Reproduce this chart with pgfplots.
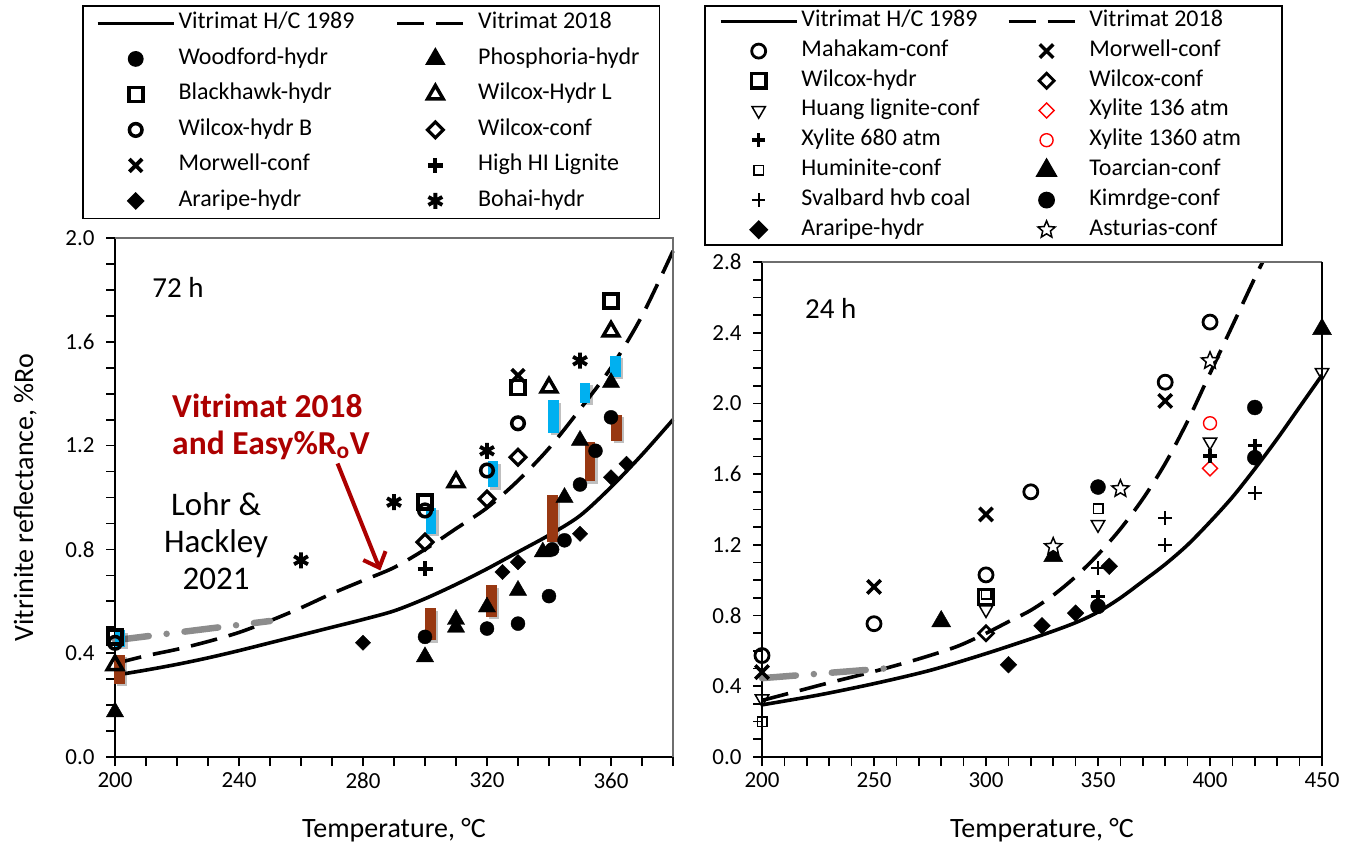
\documentclass[border=0pt]{standalone}
\usepackage{fontspec}
\setmainfont{Carlito}
\usepackage{pgfplots}
\pgfplotsset{compat=1.18}
\usetikzlibrary{arrows.meta}

\definecolor{barblue}{RGB}{0,176,240}
\definecolor{barbrown}{RGB}{152,56,18}
\definecolor{annred}{RGB}{172,0,0}
\definecolor{lhgray}{RGB}{140,140,140}
\definecolor{framegray}{RGB}{110,110,110}

% open five-pointed star
\pgfdeclareplotmark{ostar}{%
  \pgfpathmoveto{\pgfpointpolar{90}{\pgfplotmarksize}}%
  \pgfpathlineto{\pgfpointpolar{126}{0.45\pgfplotmarksize}}%
  \pgfpathlineto{\pgfpointpolar{162}{\pgfplotmarksize}}%
  \pgfpathlineto{\pgfpointpolar{198}{0.45\pgfplotmarksize}}%
  \pgfpathlineto{\pgfpointpolar{234}{\pgfplotmarksize}}%
  \pgfpathlineto{\pgfpointpolar{270}{0.45\pgfplotmarksize}}%
  \pgfpathlineto{\pgfpointpolar{306}{\pgfplotmarksize}}%
  \pgfpathlineto{\pgfpointpolar{342}{0.45\pgfplotmarksize}}%
  \pgfpathlineto{\pgfpointpolar{18}{\pgfplotmarksize}}%
  \pgfpathlineto{\pgfpointpolar{54}{0.45\pgfplotmarksize}}%
  \pgfpathclose
  \pgfusepathqfillstroke
}

\pgfplotsset{
  vrpanel/.style={
    scale only axis,
    clip=false,
    axis lines=left,
    axis line style={-, line width=2.5pt, black},
    tick align=outside,
    major tick length=9pt,
    minor tick length=9pt,
    every tick/.append style={black, line width=1.7pt},
    every minor tick/.append style={black, line width=1.7pt},
    /pgf/number format/assume math mode=true,
    tick label style={font=\fontsize{23}{27}\selectfont},
    label style={font=\fontsize{28}{33}\selectfont},
    yticklabel style={xshift=-8pt, /pgf/number format/.cd, fixed, fixed zerofill, precision=1},
    xticklabel style={yshift=-3pt},
    legend columns=2,
    legend cell align=left,
    legend image code/.code={\draw[mark repeat=2, mark phase=2, ##1] plot coordinates {(0pt,0pt) (38pt,0pt) (76pt,0pt)};},
    legend style={anchor=north west, draw=black, line width=1.8pt, fill=white,
      font=\fontsize{24}{28}\selectfont,
      nodes={inner sep=0pt, text height=16pt, text depth=5pt, align=left},
      inner xsep=13pt, inner ysep=7pt,
      /tikz/every odd column/.append style={column sep=3pt}},
  },
  hc/.style={black, line width=3.6pt, mark=none, smooth},
  v18/.style={black, line width=3.6pt, mark=none, smooth, dash pattern=on 27pt off 12pt},
  lhbar/.style={forget plot, mark=none, line width=10.5pt, unbounded coords=jump},
  lhshadow/.style={forget plot, mark=none, line width=10.5pt, unbounded coords=jump,
    black, opacity=0.25, xshift=2.5pt, yshift=-2.5pt},
  lhline/.style={forget plot, mark=none, lhgray, line width=6.5pt, line cap=round,
    dash pattern=on 34pt off 18pt on 0pt off 18pt},
}

\begin{document}
\begin{tikzpicture}
\useasboundingbox (0,0) rectangle (1348pt,847pt);

% ---------------- 72 h ----------------
\begin{axis}[vrpanel,
  at={(115pt,90pt)}, anchor=south west,
  width=558pt, height=519pt,
  xmin=200, xmax=380, ymin=0, ymax=2,
  xtick={200,240,280,320,360},
  minor xtick={210,220,...,380},
  ytick={0,0.4,0.8,1.2,1.6,2.0},
  minor ytick={0.1,0.2,0.3,0.5,0.6,0.7,0.9,1.0,1.1,1.3,1.4,1.5,1.7,1.8,1.9},
  xlabel={Temperature, °C},
  ylabel={Vitrinite reflectance, \%Ro},
  xlabel style={at={(axis description cs:0.5,-0.1407)}, anchor=center},
  ylabel style={at={(axis description cs:-0.161,0.5)}, anchor=center},
  legend style={at={(-0.0591,1.4489)}, row sep=14.5pt,
    /tikz/every even column/.append style={column sep=41pt}},
]
\addplot[hc] coordinates {
 (200,0.315) (210,0.335) (220,0.357) (230,0.382) (240,0.41) (250,0.44)
 (260,0.47) (270,0.50) (280,0.53) (290,0.563) (300,0.61) (310,0.665)
 (320,0.725) (330,0.79) (340,0.855) (350,0.93) (360,1.04) (370,1.165) (380,1.30)};
\addlegendentry{Vitrimat H/C 1989}
\addplot[v18] coordinates {
 (200,0.36) (210,0.39) (220,0.415) (230,0.445) (240,0.48) (250,0.525)
 (260,0.575) (270,0.63) (280,0.68) (290,0.73) (300,0.80) (310,0.88)
 (320,0.96) (330,1.065) (340,1.19) (350,1.34) (360,1.50) (370,1.70) (380,1.95)};
\addlegendentry{Vitrimat 2018}

\addplot[only marks, black, mark=*, mark size=7pt] coordinates {
 (300,0.463) (320,0.495) (330,0.514) (340,0.62) (341,0.80) (345,0.835)
 (350,1.05) (355,1.18) (360,1.309)};
\addlegendentry{Woodford-hydr}
\addplot[only marks, black, mark=triangle*, mark size=10pt] coordinates {
 (200,0.174) (300,0.386) (310,0.53) (310,0.50) (320,0.578) (330,0.642)
 (338,0.79) (345,1.0) (350,1.22) (360,1.443)};
\addlegendentry{Phosphoria-hydr\hspace*{7pt}}
\addplot[only marks, black, mark=square, mark size=7pt, line width=3.8pt] coordinates {
 (200,0.463) (300,0.982) (330,1.424) (360,1.758)};
\addlegendentry{Blackhawk-hydr}
\addplot[only marks, black, mark=triangle, mark size=9pt, line width=3.5pt] coordinates {
 (200,0.354) (310,1.059) (340,1.424) (360,1.64)};
\addlegendentry{Wilcox-Hydr L}
\addplot[only marks, black, mark=o, mark size=6.3pt, line width=3.5pt] coordinates {
 (200,0.44) (300,0.95) (320,1.104) (330,1.286)};
\addlegendentry{Wilcox-hydr B}
\addplot[only marks, black, mark=square, mark size=5.6pt, line width=3.2pt, mark options={rotate=45}] coordinates {
 (300,0.828) (320,0.994) (330,1.155)};
\addlegendentry{Wilcox-conf}
\addplot[only marks, black, mark=x, mark size=9pt, line width=3.8pt] coordinates {
 (330,1.47)};
\addlegendentry{Morwell-conf}
\addplot[only marks, black, mark=+, mark size=7.5pt, line width=4.2pt] coordinates {
 (300,0.726)};
\addlegendentry{High HI Lignite}
\addplot[only marks, black, mark=square*, mark size=5.4pt, mark options={rotate=45}] coordinates {
 (280,0.44) (325,0.713) (330,0.751) (350,0.86) (360,1.078) (365,1.13)};
\addlegendentry{Araripe-hydr}
\addplot[only marks, black, mark=asterisk, mark size=8pt, line width=3.8pt] coordinates {
 (260,0.758) (290,0.982) (320,1.18) (350,1.527)};
\addlegendentry{Bohai-hydr}

% Lohr & Hackley 2021
\addplot[lhline] coordinates {(200,0.45) (250,0.524)};
\addplot[lhshadow] coordinates {
 (201.6,0.424) (201.6,0.488) (201.6,nan)
 (302,0.86) (302,0.96) (302,nan)
 (321.9,1.04) (321.9,1.14) (321.9,nan)
 (341.4,1.25) (341.4,1.375) (341.4,nan)
 (351.6,1.366) (351.6,1.443) (351.6,nan)
 (361.4,1.466) (361.4,1.546) (361.4,nan)
 (201.4,0.283) (201.4,0.395) (201.4,nan)
 (301.8,0.45) (301.8,0.573) (301.8,nan)
 (321.5,0.54) (321.5,0.662) (321.5,nan)
 (341.1,0.83) (341.1,1.01) (341.1,nan)
 (353.3,1.063) (353.3,1.213) (353.3,nan)
 (361.7,1.218) (361.7,1.318)};
\addplot[lhbar, barblue] coordinates {
 (201.6,0.424) (201.6,0.488) (201.6,nan)
 (302,0.86) (302,0.96) (302,nan)
 (321.9,1.04) (321.9,1.14) (321.9,nan)
 (341.4,1.25) (341.4,1.375) (341.4,nan)
 (351.6,1.366) (351.6,1.443) (351.6,nan)
 (361.4,1.466) (361.4,1.546)};
\addplot[lhbar, barbrown] coordinates {
 (201.4,0.283) (201.4,0.395) (201.4,nan)
 (301.8,0.45) (301.8,0.573) (301.8,nan)
 (321.5,0.54) (321.5,0.662) (321.5,nan)
 (341.1,0.83) (341.1,1.01) (341.1,nan)
 (353.3,1.063) (353.3,1.213) (353.3,nan)
 (361.7,1.218) (361.7,1.318)};

\draw[framegray, line width=1.2pt] (rel axis cs:0,1) -- (rel axis cs:1,1) -- (rel axis cs:1,0);

\node[anchor=west, inner sep=0pt, font=\fontsize{29}{33}\selectfont] at (axis cs:212,1.81) {72 h};
\node[align=center, inner sep=0pt, font=\fontsize{33}{37}\selectfont] at (axis cs:232.6,0.831) {Lohr \&\\Hackley\\2021};
\node[anchor=north west, align=left, inner sep=0pt, text=annred, font=\bfseries\fontsize{33.5}{37}\selectfont]
  at (axis cs:218.4,1.40) {Vitrimat 2018\\and Easy\%R\textsubscript{o}V};
\draw[annred, line width=4pt, -{Straight Barb[length=13pt,width=24pt]}]
  (axis cs:271.8,1.131) -- (axis cs:285.6,0.719);
\end{axis}

% ---------------- 24 h ----------------
\begin{axis}[vrpanel,
  at={(762pt,90pt)}, anchor=south west,
  width=560pt, height=495pt,
  xmin=200, xmax=450, ymin=0, ymax=2.8,
  xtick={200,250,300,350,400,450},
  minor xtick={210,220,...,440},
  ytick={0,0.4,0.8,1.2,1.6,2.0,2.4,2.8},
  minor ytick={0.1,0.2,0.3,0.5,0.6,0.7,0.9,1.0,1.1,1.3,1.4,1.5,1.7,1.8,1.9,2.1,2.2,2.3,2.5,2.6,2.7},
  xlabel={Temperature, °C},
  xlabel style={at={(axis description cs:0.5,-0.1475)}, anchor=center},
  legend style={at={(-0.1036,1.5192)}, row sep=8.7pt, inner xsep=14pt, inner ysep=5pt,
    /tikz/every even column/.append style={column sep=27pt}},
]
\addplot[hc] coordinates {
 (200,0.295) (225,0.35) (250,0.415) (275,0.49) (300,0.585) (325,0.69)
 (340,0.76) (350,0.82) (360,0.90) (370,0.994) (380,1.09) (390,1.20)
 (400,1.33) (410,1.47) (420,1.63) (430,1.80) (440,1.98) (450,2.16)};
\addlegendentry{Vitrimat H/C 1989}
\addplot[v18] coordinates {
 (200,0.32) (215,0.37) (230,0.42) (250,0.484) (270,0.555) (287,0.625)
 (300,0.70) (310,0.765) (320,0.83) (330,0.915) (340,1.02) (350,1.145)
 (360,1.29) (370,1.46) (380,1.66) (390,1.90) (400,2.17) (410,2.44)
 (420,2.71) (423.5,2.8)};
\addlegendentry{Vitrimat 2018}

\addplot[only marks, black, mark=o, mark size=7pt, line width=2.8pt] coordinates {
 (200,0.574) (250,0.754) (300,1.03) (320,1.50) (380,2.12) (400,2.46)};
\addlegendentry{Mahakam-conf}
\addplot[only marks, black, mark=x, mark size=9.5pt, line width=3.5pt] coordinates {
 (200,0.48) (250,0.962) (300,1.372) (380,2.014)};
\addlegendentry{Morwell-conf}
\addplot[only marks, black, mark=square, mark size=7.3pt, line width=3.5pt] coordinates {
 (300,0.905)};
\addlegendentry{Wilcox-hydr}
\addplot[only marks, black, mark=square, mark size=5.3pt, line width=2.8pt, mark options={rotate=45}] coordinates {
 (300,0.70)};
\addlegendentry{Wilcox-conf}
\addplot[only marks, black, mark=triangle, mark size=7.7pt, line width=1.5pt, mark options={rotate=180}] coordinates {
 (200,0.329) (300,0.833) (350,1.315) (400,1.782) (450,2.175)};
\addlegendentry{Huang lignite-conf}
\addplot[only marks, red, mark=square, mark size=5.3pt, line width=1.4pt, mark options={rotate=45}] coordinates {
 (400,1.633)};
\addlegendentry{Xylite 136 atm}
\addplot[only marks, black, mark=+, mark size=6.8pt, line width=3.4pt] coordinates {
 (350,0.909) (400,1.702) (420,1.763)};
\addlegendentry{Xylite 680 atm}
\addplot[only marks, red, mark=o, mark size=6.5pt, line width=1.4pt] coordinates {
 (400,1.888)};
\addlegendentry{Xylite 1360 atm\hspace*{27pt}}
\addplot[only marks, black, mark=square, mark size=4.8pt, line width=1.4pt] coordinates {
 (200,0.20) (300,0.92) (350,1.404)};
\addlegendentry{Huminite-conf}
\addplot[only marks, black, mark=triangle*, mark size=11pt] coordinates {
 (280,0.767) (330,1.136) (450,2.42)};
\addlegendentry{Toarcian-conf}
\addplot[only marks, black, mark=+, mark size=6.8pt, line width=1.7pt] coordinates {
 (350,1.07) (380,1.20) (380,1.353) (420,1.495)};
\addlegendentry{Svalbard hvb coal}
\addplot[only marks, black, mark=*, mark size=7.5pt] coordinates {
 (350,0.852) (350,1.527) (420,1.693) (420,1.977)};
\addlegendentry{Kimrdge-conf}
\addplot[only marks, black, mark=square*, mark size=5.9pt, mark options={rotate=45}] coordinates {
 (310,0.522) (325,0.743) (340,0.814) (355,1.079)};
\addlegendentry{Araripe-hydr}
\addplot[only marks, black, mark=ostar, mark size=9pt, line width=1.5pt, mark options={fill=white}] coordinates {
 (330,1.19) (360,1.517) (400,2.241)};
\addlegendentry{Asturias-conf}

\addplot[lhline] coordinates {(200,0.446) (257,0.503)};

\draw[framegray, line width=1.2pt] (rel axis cs:0,1) -- (rel axis cs:1,1);
\draw[black, line width=2.2pt] (rel axis cs:1,1) -- (rel axis cs:1,0);

\node[anchor=west, inner sep=0pt, font=\fontsize{29}{33}\selectfont] at (axis cs:219.2,2.54) {24 h};
\end{axis}
\end{tikzpicture}
\end{document}
